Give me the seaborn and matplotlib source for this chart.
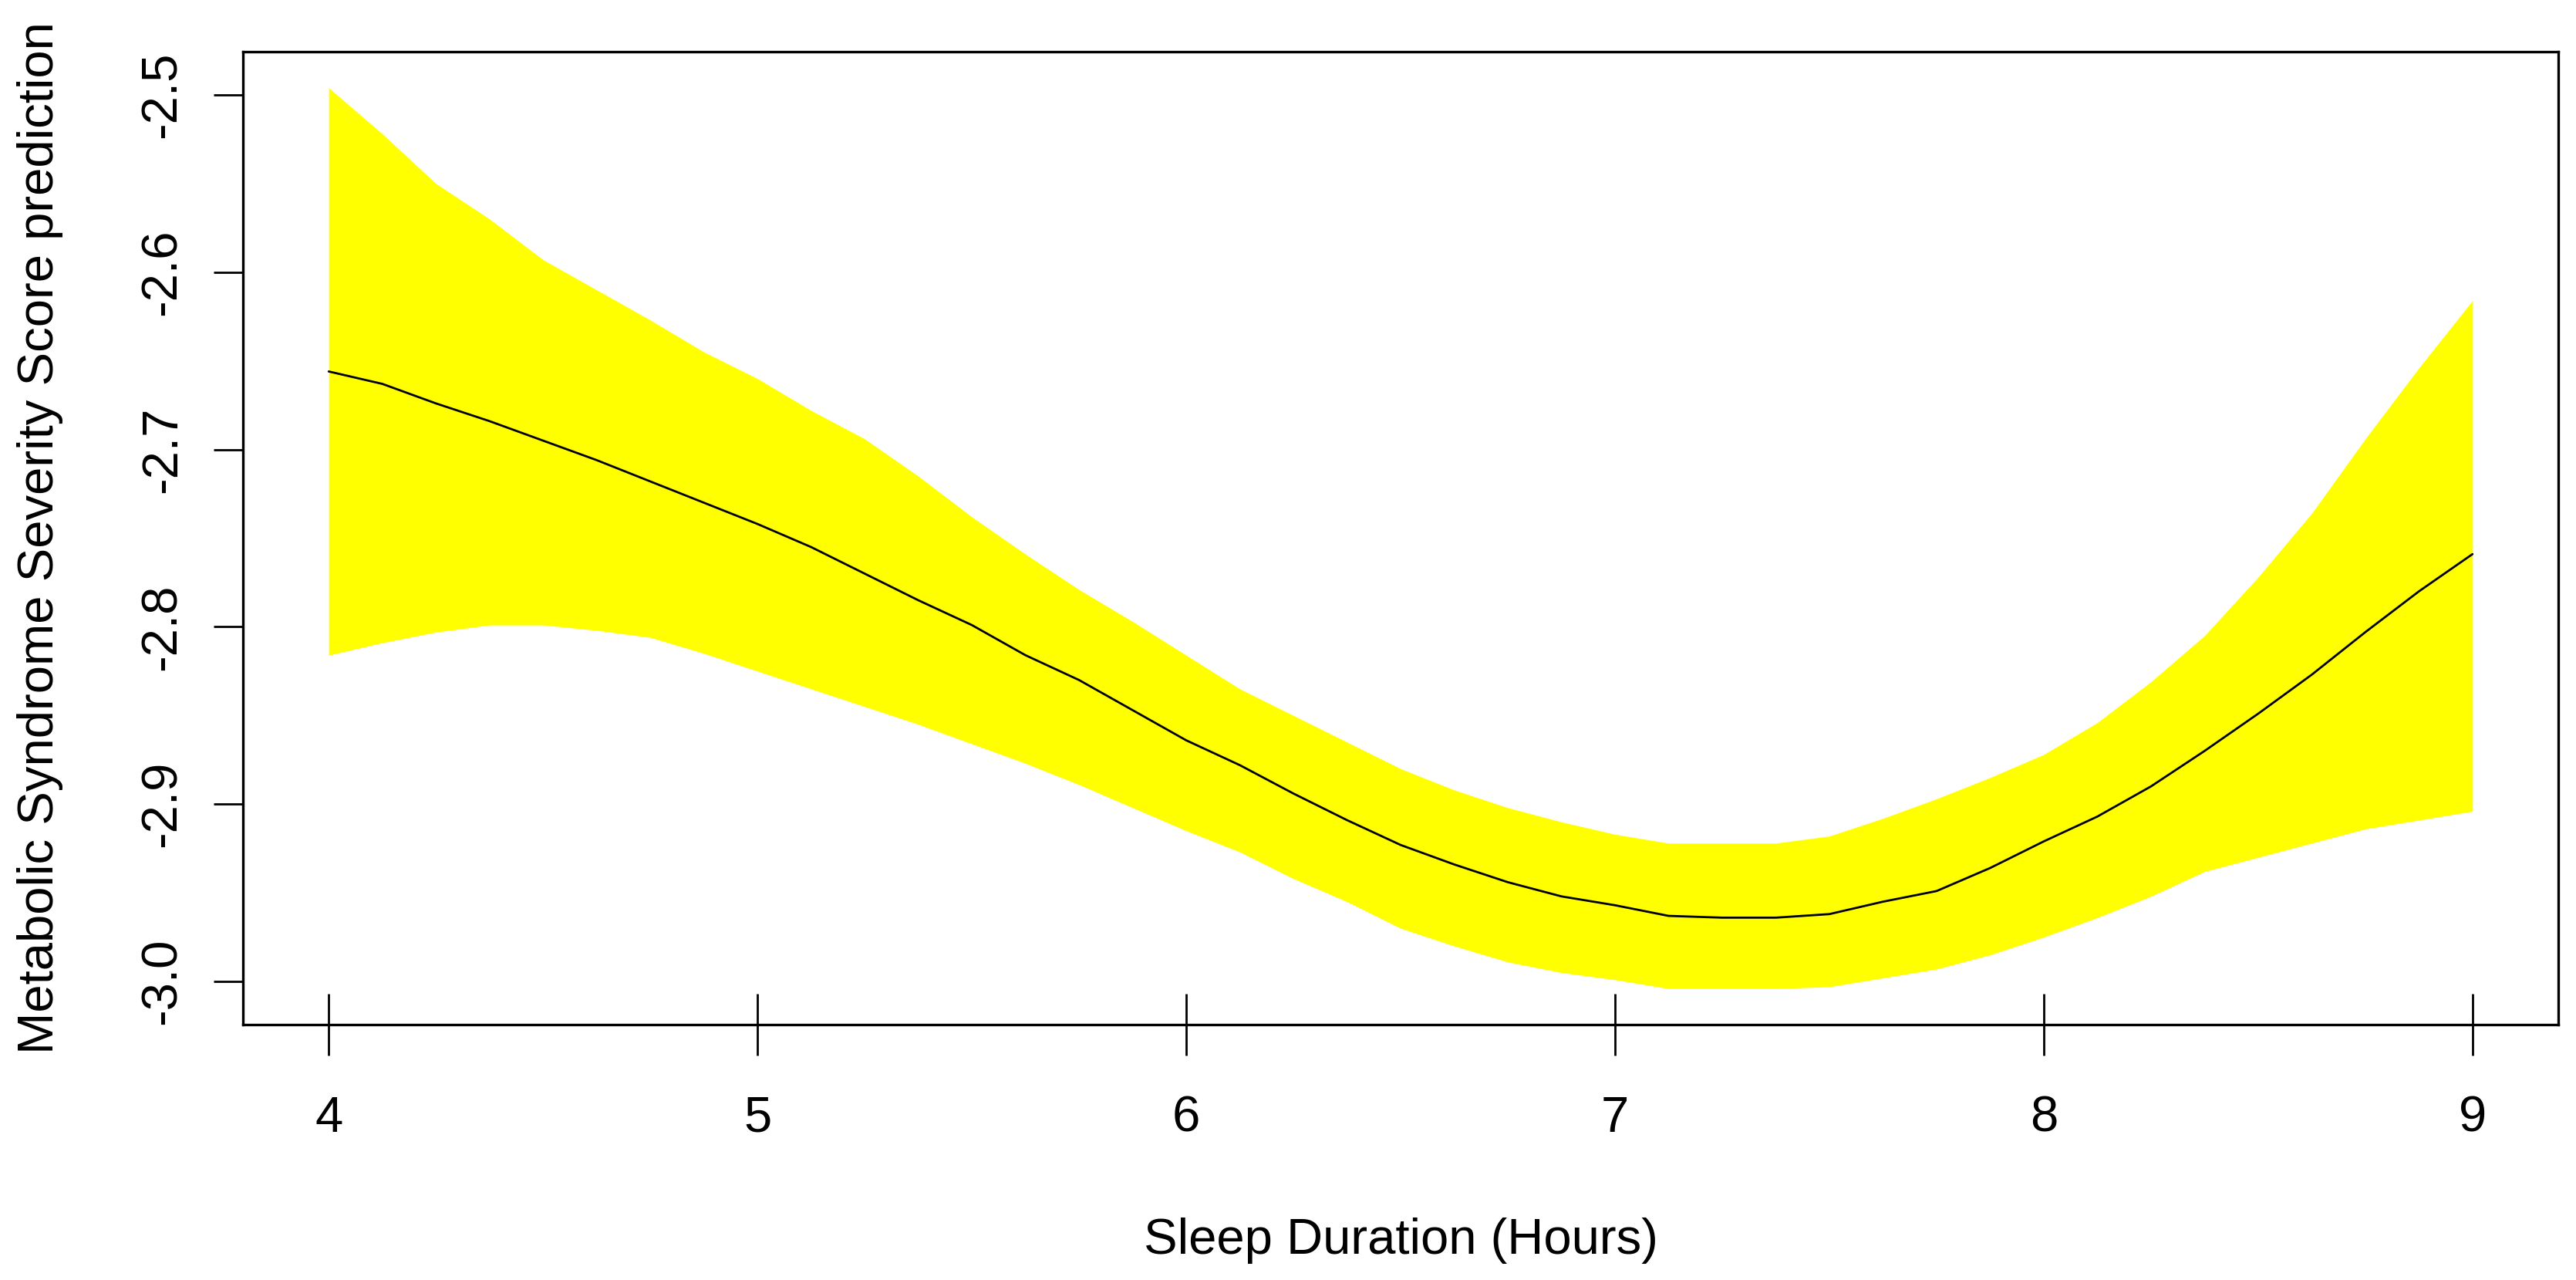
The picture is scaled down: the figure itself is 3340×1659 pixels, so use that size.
import seaborn as sns
import matplotlib.pyplot as plt
import pandas as pd
import numpy as np
from matplotlib.ticker import FormatStrFormatter

# style like base R plot
sns.set_style("ticks")
plt.rcParams["font.family"] = ["Liberation Sans", "DejaVu Sans"]
plt.rcParams["axes.unicode_minus"] = False
plt.rcParams["text.color"] = "black"
plt.rcParams["axes.labelcolor"] = "black"

# values
sleep_hours = [4.0, 4.125, 4.25, 4.375, 4.5, 4.625, 4.75, 4.875, 5.0, 5.125,
               5.25, 5.375, 5.5, 5.625, 5.75, 5.875, 6.0, 6.125, 6.25, 6.375,
               6.5, 6.625, 6.75, 6.875, 7.0, 7.125, 7.25, 7.375, 7.5, 7.625,
               7.75, 7.875, 8.0, 8.125, 8.25, 8.375, 8.5, 8.625, 8.75, 8.875, 9.0]
fit = [-2.656, -2.663, -2.674, -2.684, -2.695, -2.706, -2.718, -2.730, -2.742,
       -2.755, -2.770, -2.785, -2.799, -2.816, -2.830, -2.847, -2.864, -2.878,
       -2.894, -2.909, -2.923, -2.934, -2.944, -2.952, -2.957, -2.963, -2.964,
       -2.964, -2.962, -2.955, -2.949, -2.936, -2.921, -2.907, -2.890, -2.870,
       -2.849, -2.827, -2.803, -2.780, -2.759]
upper = [-2.496, -2.522, -2.550, -2.570, -2.593, -2.610, -2.627, -2.645, -2.660,
         -2.678, -2.694, -2.715, -2.738, -2.759, -2.779, -2.797, -2.816, -2.835,
         -2.850, -2.865, -2.880, -2.892, -2.902, -2.910, -2.917, -2.922, -2.922,
         -2.922, -2.918, -2.908, -2.897, -2.885, -2.872, -2.854, -2.831, -2.805,
         -2.772, -2.736, -2.694, -2.654, -2.616]
lower = [-2.816, -2.809, -2.803, -2.799, -2.799, -2.802, -2.806, -2.815, -2.825,
         -2.835, -2.845, -2.855, -2.866, -2.877, -2.889, -2.902, -2.915, -2.927,
         -2.942, -2.955, -2.970, -2.980, -2.989, -2.995, -2.999, -3.004, -3.004,
         -3.004, -3.003, -2.998, -2.993, -2.985, -2.975, -2.964, -2.952, -2.938,
         -2.930, -2.922, -2.914, -2.909, -2.904]
x_ticks = [4, 5, 6, 7, 8, 9]
y_ticks = [-3.0, -2.9, -2.8, -2.7, -2.6, -2.5]

df = pd.DataFrame({"sleep": sleep_hours, "fit": fit, "upper": upper, "lower": lower})

W, H = 3340, 1659
fig = plt.figure(figsize=(W / 100, H / 100), dpi=100)
ax = fig.add_axes([315 / W, (H - 1328) / H, 3002 / W, 1261 / H])

ax.fill_between(df["sleep"], df["lower"], df["upper"], color="#ffff00", lw=0)
sns.lineplot(data=df, x="sleep", y="fit", color="black", lw=2, ax=ax)

# R default 4% axis extension
xmin, xmax = df["sleep"].min(), df["sleep"].max()
ymin, ymax = df["lower"].min(), df["upper"].max()
ax.set_xlim(xmin - 0.04 * (xmax - xmin), xmax + 0.04 * (xmax - xmin))
ax.set_ylim(ymin - 0.04 * (ymax - ymin), ymax + 0.04 * (ymax - ymin))

ax.set_xticks(x_ticks)
ax.set_yticks(y_ticks)
ax.yaxis.set_major_formatter(FormatStrFormatter("%.1f"))

for sp in ax.spines.values():
    sp.set_visible(True)
    sp.set_linewidth(2.4)
    sp.set_color("black")

ax.tick_params(axis="x", direction="inout", length=57.6, width=2, pad=37.4,
               labelsize=47, colors="black")
ax.tick_params(axis="y", direction="out", length=27.4, width=2, pad=25.9,
               labelsize=47, colors="black")
plt.setp(ax.get_yticklabels(), rotation=90, va="center")

ax.set_xlabel("Sleep Duration (Hours)", fontsize=47, color="black")
ax.set_ylabel("Metabolic Syndrome Severity Score prediction", fontsize=47, color="black")
ax.xaxis.set_label_coords(0.5, -(1578 - 1328) / 1261)
ax.yaxis.set_label_coords(-(315 - 82) / 3002, 0.5)

fig.savefig("out.png", dpi=100)
